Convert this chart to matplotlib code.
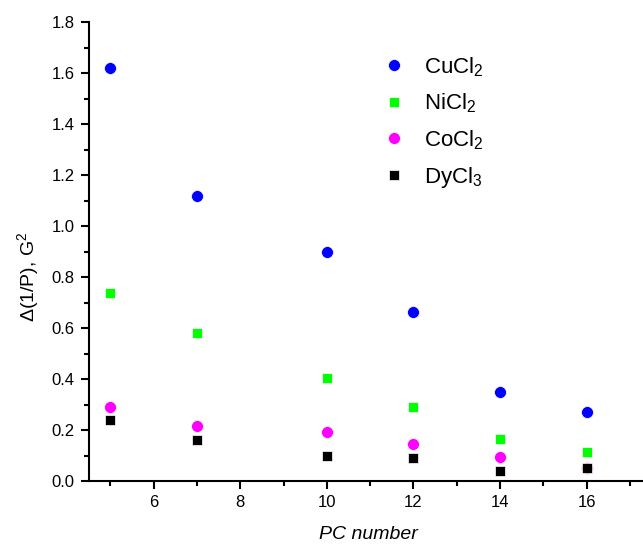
import matplotlib
matplotlib.use("Agg")
import matplotlib.pyplot as plt
from matplotlib.ticker import MultipleLocator

plt.rcParams['font.family'] = ['Liberation Sans', 'DejaVu Sans']
plt.rcParams['mathtext.fontset'] = 'custom'
plt.rcParams['mathtext.rm'] = 'Liberation Sans'

pc_number = [5, 7, 10, 12, 14, 16]
cucl2 = [1.62, 1.12, 0.90, 0.665, 0.35, 0.27]
nicl2 = [0.74, 0.58, 0.405, 0.29, 0.165, 0.115]
cocl2 = [0.29, 0.215, 0.195, 0.145, 0.095, 0.05]
dycl3 = [0.24, 0.16, 0.10, 0.09, 0.04, 0.05]

series = [
    (cucl2, 'CuCl$_2$', 'o', '#0000ff', 8.6),
    (nicl2, 'NiCl$_2$', 's', '#00ff00', 7.4),
    (cocl2, 'CoCl$_2$', 'o', '#ff00ff', 8.6),
    (dycl3, 'DyCl$_3$', 's', '#000000', 7.4),
]

fig = plt.figure(figsize=(6.43, 5.45), dpi=100)
ax = fig.add_axes([0.138, 0.117, 0.862, 0.842])

for values, label, marker, color, ms in series:
    ax.plot(pc_number, values, linestyle='none', marker=marker, color=color,
            markersize=ms, markeredgewidth=0.5, markeredgecolor='white', label=label)

ax.set_xlim(4.5, 17.3)
ax.set_ylim(0, 1.8)
ax.xaxis.set_major_locator(MultipleLocator(2))
ax.xaxis.set_minor_locator(MultipleLocator(1))
ax.yaxis.set_major_locator(MultipleLocator(0.2))
ax.yaxis.set_minor_locator(MultipleLocator(0.1))
ax.yaxis.set_major_formatter(plt.FuncFormatter(lambda v, _: f'{v:.1f}'))

for side in ('top', 'right'):
    ax.spines[side].set_visible(False)
for side in ('left', 'bottom'):
    ax.spines[side].set_linewidth(1.5)

ax.tick_params(which='major', direction='out', length=6, width=1.5, labelsize=12, pad=4)
ax.tick_params(which='minor', direction='out', length=3.6, width=1.5)

ax.set_xlabel('PC number', fontsize=14, style='italic')
ax.xaxis.set_label_coords(0.504, -0.098)
ax.set_ylabel('Δ(1/P), G$^2$', fontsize=14)
ax.yaxis.set_label_coords(-0.085, 0.445)

ax.legend(loc='upper left', bbox_to_anchor=(0.505, 0.948), frameon=False,
          fontsize=16, handletextpad=0.6, labelspacing=0.58, borderaxespad=0,
          handlelength=1.5)

fig.savefig('out.png', dpi=100)
